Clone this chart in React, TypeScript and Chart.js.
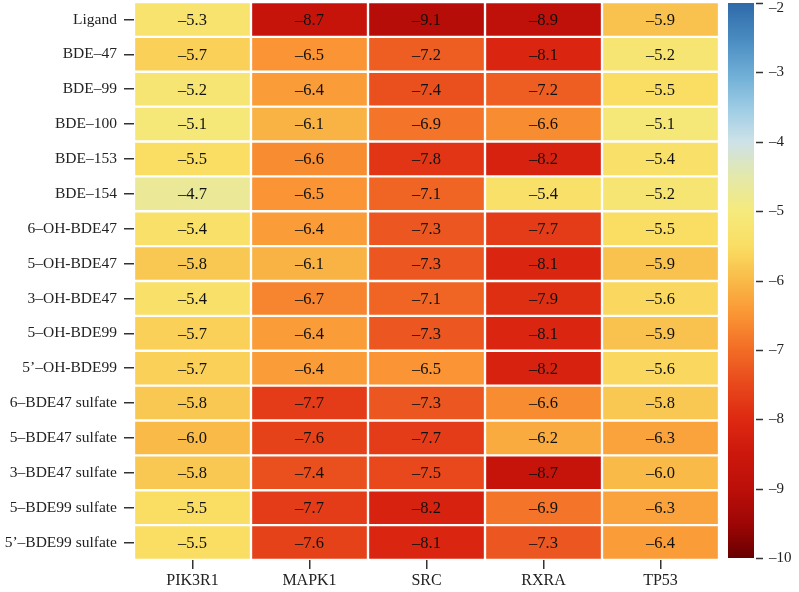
import React, { useEffect, useRef } from "react";
import { Chart, registerables } from "chart.js";

Chart.register(...registerables);

const rows = [
  "Ligand", "BDE–47", "BDE–99", "BDE–100", "BDE–153", "BDE–154",
  "6–OH-BDE47", "5–OH-BDE47", "3–OH-BDE47", "5–OH-BDE99", "5’–OH-BDE99",
  "6–BDE47 sulfate", "5–BDE47 sulfate", "3–BDE47 sulfate", "5–BDE99 sulfate", "5’–BDE99 sulfate",
];
const columns = ["PIK3R1", "MAPK1", "SRC", "RXRA", "TP53"];

const pik3r1 = [-5.3, -5.7, -5.2, -5.1, -5.5, -4.7, -5.4, -5.8, -5.4, -5.7, -5.7, -5.8, -6.0, -5.8, -5.5, -5.5];
const mapk1 = [-8.7, -6.5, -6.4, -6.1, -6.6, -6.5, -6.4, -6.1, -6.7, -6.4, -6.4, -7.7, -7.6, -7.4, -7.7, -7.6];
const src = [-9.1, -7.2, -7.4, -6.9, -7.8, -7.1, -7.3, -7.3, -7.1, -7.3, -6.5, -7.3, -7.7, -7.5, -8.2, -8.1];
const rxra = [-8.9, -8.1, -7.2, -6.6, -8.2, -5.4, -7.7, -8.1, -7.9, -8.1, -8.2, -6.6, -6.2, -8.7, -6.9, -7.3];
const tp53 = [-5.9, -5.2, -5.5, -5.1, -5.4, -5.2, -5.5, -5.9, -5.6, -5.9, -5.6, -5.8, -6.3, -6.0, -6.3, -6.4];

const seriesValues = [pik3r1, mapk1, src, rxra, tp53];

const colorbarTicks = [-2, -3, -4, -5, -6, -7, -8, -9, -10];
const vMin = -10;
const vMax = -2;

const colorStops: [number, number[]][] = [
  [-10, [104, 0, 0]],
  [-9.5, [158, 6, 5]],
  [-9, [188, 15, 9]],
  [-8.5, [204, 24, 12]],
  [-8, [221, 41, 17]],
  [-7.5, [232, 72, 28]],
  [-7, [242, 108, 38]],
  [-6.5, [250, 148, 52]],
  [-6, [249, 186, 72]],
  [-5.5, [250, 222, 100]],
  [-5, [245, 234, 125]],
  [-4.5, [228, 232, 170]],
  [-4, [205, 226, 232]],
  [-3.5, [155, 203, 228]],
  [-3, [108, 172, 213]],
  [-2.5, [72, 138, 192]],
  [-2, [46, 106, 168]],
];

function colorFor(v: number): string {
  const x = Math.max(vMin, Math.min(vMax, v));
  for (let i = 0; i < colorStops.length - 1; i++) {
    const [a, ca] = colorStops[i];
    const [b, cb] = colorStops[i + 1];
    if (x >= a && x <= b) {
      const t = (x - a) / (b - a);
      const c = ca.map((c0, k) => Math.round(c0 + (cb[k] - c0) * t));
      return `rgb(${c[0]},${c[1]},${c[2]})`;
    }
  }
  return "rgb(0,0,0)";
}

const fmt = (v: number) => (v < 0 ? "–" : "") + Math.abs(v).toFixed(1);
const fmtInt = (v: number) => (v < 0 ? "–" : "") + Math.abs(v).toFixed(0);
const FONT = "'Liberation Serif', 'DejaVu Serif', serif";

const cellLabels = {
  id: "cellLabels",
  afterDatasetsDraw(chart: any) {
    const ctx = chart.ctx;
    ctx.save();
    ctx.fillStyle = "#111";
    ctx.font = `16.5px ${FONT}`;
    ctx.textAlign = "center";
    ctx.textBaseline = "middle";
    chart.data.datasets.forEach((ds: any, di: number) => {
      const meta = chart.getDatasetMeta(di);
      meta.data.forEach((el: any, i: number) => {
        const cx = (el.x + el.base) / 2;
        ctx.fillText(fmt(seriesValues[di][i]), cx, el.y + 1);
      });
    });
    ctx.restore();
  },
};

const colorbar = {
  id: "colorbar",
  afterDraw(chart: any) {
    const ctx = chart.ctx;
    const area = chart.chartArea;
    const x0 = area.right + 9;
    const w = 26;
    const top = area.top + 1;
    const bottom = area.bottom - 2;
    const yOf = (v: number) => top + ((vMax - v) / (vMax - vMin)) * (bottom - top);
    const grad = ctx.createLinearGradient(0, top, 0, bottom);
    for (let k = 0; k <= 80; k++) {
      const v = vMax - (k / 80) * (vMax - vMin);
      grad.addColorStop(k / 80, colorFor(v));
    }
    ctx.save();
    ctx.fillStyle = grad;
    ctx.fillRect(x0, top, w, bottom - top);
    ctx.strokeStyle = "#333";
    ctx.lineWidth = 1.5;
    ctx.fillStyle = "#222";
    ctx.font = `15px ${FONT}`;
    ctx.textAlign = "left";
    ctx.textBaseline = "middle";
    colorbarTicks.forEach((t) => {
      const y = Math.round(yOf(t)) + 0.5;
      ctx.beginPath();
      ctx.moveTo(x0 + w + 2, y);
      ctx.lineTo(x0 + w + 9, y);
      ctx.stroke();
      ctx.fillText(fmtInt(t), x0 + w + 15, Math.max(y, 8));
    });
    ctx.restore();
  },
};

export default function App() {
  const ref = useRef<HTMLCanvasElement | null>(null);

  useEffect(() => {
    if (!ref.current) return;
    const datasets = seriesValues.map((vals, ci) => ({
      label: columns[ci],
      data: vals.map(() => [ci, ci + 1]),
      backgroundColor: vals.map((v) => colorFor(v)),
      borderColor: "#ffffff",
      borderWidth: 1.5,
      borderSkipped: false,
      barPercentage: 1,
      categoryPercentage: 1,
      grouped: false,
    }));
    const chart = new Chart(ref.current, {
      type: "bar",
      data: { labels: rows, datasets: datasets as any },
      plugins: [cellLabels, colorbar],
      options: {
        indexAxis: "y",
        animation: false,
        responsive: false,
        maintainAspectRatio: false,
        layout: { padding: { left: 0, top: 2, right: 80, bottom: 0 } },
        plugins: {
          legend: { display: false },
          tooltip: { enabled: false },
        },
        scales: {
          x: {
            type: "linear",
            min: 0,
            max: 5,
            afterBuildTicks: (scale: any) => {
              scale.ticks = columns.map((_, i) => ({ value: i + 0.5 }));
            },
            afterFit: (scale: any) => {
              scale.height = 32;
              scale.paddingLeft = 0;
              scale.paddingRight = 0;
            },
            ticks: {
              autoSkip: false,
              maxRotation: 0,
              padding: 2,
              color: "#222",
              font: { family: FONT, size: 16 },
              callback: (value: any) => columns[Math.floor(Number(value))] ?? "",
            },
            grid: {
              drawOnChartArea: false,
              drawTicks: true,
              tickLength: 9,
              tickColor: "#333",
              lineWidth: 1.5,
            },
            border: { display: false },
          },
          y: {
            type: "category",
            afterFit: (scale: any) => {
              scale.width = 134;
              scale.paddingTop = 0;
              scale.paddingBottom = 0;
            },
            ticks: {
              autoSkip: false,
              padding: 7,
              color: "#222",
              font: { family: FONT, size: 15.5 },
            },
            grid: {
              offset: false,
              drawOnChartArea: false,
              drawTicks: true,
              tickLength: 10,
              tickColor: "#333",
              lineWidth: 1.5,
            },
            border: { display: false },
          },
        },
      },
    } as any);
    return () => chart.destroy();
  }, []);

  return (
    <div style={{ position: "fixed", left: 0, top: 0, width: 799, height: 592, background: "#fff" }}>
      <canvas ref={ref} width={799} height={592} style={{ width: 799, height: 592, display: "block" }} />
    </div>
  );
}
